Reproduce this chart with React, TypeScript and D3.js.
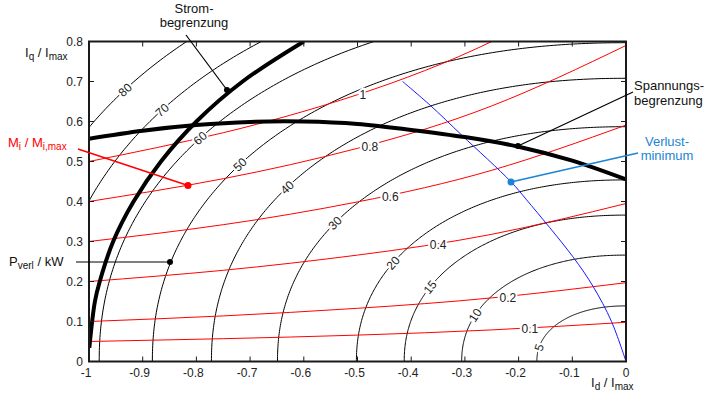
import * as d3 from "d3";

// loss contours P_verl in kW (quarter superellipses, read intercepts)
const lossLevels = [5, 10, 15, 20, 30, 40, 50, 60, 70, 80];
const lossIdIntercept = [-0.166, -0.306, -0.413, -0.502, -0.649, -0.772, -0.882, -0.981, -1.074, -1.156];
const lossIqIntercept = [0.139, 0.266, 0.366, 0.454, 0.587, 0.708, 0.797, 0.89, 0.994, 1.08];
const lossLabelId = [-0.162, -0.281, -0.365, -0.434, -0.542, -0.631, -0.719, -0.793, -0.864, -0.933];
const contourShape = 2.15;

// torque lines Mi / Mi,max
const torqueLevels = ["0.1", "0.2", "0.4", "0.6", "0.8", "1"];
const torqueIdGrid = [-1, -0.75, -0.5, -0.25, 0];
const torqueIq = [
  [0.05, 0.057, 0.066, 0.079, 0.098],
  [0.1, 0.114, 0.133, 0.159, 0.197],
  [0.2, 0.228, 0.266, 0.318, 0.395],
  [0.3, 0.342, 0.399, 0.478, 0.591],
  [0.4, 0.457, 0.533, 0.639, 0.79],
  [0.5, 0.572, 0.667, 0.8, 0.985],
];
const torqueLabelId = [-0.179, -0.22, -0.35, -0.439, -0.477, -0.49];
const torqueLabelIq = [0.081, 0.159, 0.291, 0.411, 0.536, 0.666];

// loss minimum trajectory
const lossMinimum: [number, number][] = [
  [-0.416, 0.7], [-0.365, 0.641], [-0.306, 0.566], [-0.214, 0.449], [-0.185, 0.404],
  [-0.099, 0.262], [-0.061, 0.187], [-0.027, 0.1], [0, 0],
];

// current limit (Strombegrenzung)
const currentLimit: [number, number][] = [
  [-0.9994, 0.034], [-0.989, 0.15], [-0.98, 0.2], [-0.955, 0.3], [-0.917, 0.4],
  [-0.866, 0.5], [-0.8, 0.6], [-0.714, 0.7], [-0.6, 0.8],
];

// voltage limit (Spannungsbegrenzung)
const voltageLimit: [number, number][] = [
  [-1, 0.557], [-0.9, 0.577], [-0.8, 0.591], [-0.7, 0.599], [-0.6, 0.6], [-0.5, 0.594],
  [-0.4, 0.579], [-0.3, 0.561], [-0.2, 0.537], [-0.1, 0.502], [0, 0.455],
];

const xTicks = [-1, -0.9, -0.8, -0.7, -0.6, -0.5, -0.4, -0.3, -0.2, -0.1, 0];
const yTicks = [0, 0.1, 0.2, 0.3, 0.4, 0.5, 0.6, 0.7, 0.8];

const FONT = "'Liberation Sans', Arial, sans-serif";

export default function App() {
  const width = 716;
  const height = 393;
  const x = d3.scaleLinear().domain([-1, 0]).range([89, 626]);
  const y = d3.scaleLinear().domain([0, 0.8]).range([361.5, 41.5]);

  const line = d3.line<[number, number]>().x(d => x(d[0])).y(d => y(d[1]));
  const smooth = d3.line<[number, number]>().x(d => x(d[0])).y(d => y(d[1])).curve(d3.curveCatmullRom);
  const natural = d3.line<[number, number]>().x(d => x(d[0])).y(d => y(d[1])).curve(d3.curveNatural);

  const n = contourShape;
  const superPoint = (a: number, b: number, t: number): [number, number] => [
    a * Math.pow(Math.cos(t), 2 / n),
    b * Math.pow(Math.sin(t), 2 / n),
  ];

  const contours = lossLevels.map((lvl, i) => {
    const a = lossIdIntercept[i];
    const b = lossIqIntercept[i];
    const pts = d3.range(0, 201).map(k => superPoint(a, b, (k / 200) * Math.PI / 2));
    // label sits on the curve, turned along it
    const t = Math.acos(Math.pow(Math.abs(lossLabelId[i] / a), n / 2));
    const p = superPoint(a, b, t);
    const p1 = superPoint(a, b, Math.max(0.0001, t - 0.02));
    const p2 = superPoint(a, b, Math.min(Math.PI / 2, t + 0.02));
    const ang = (Math.atan2(y(p2[1]) - y(p1[1]), x(p2[0]) - x(p1[0])) * 180) / Math.PI;
    return { lvl, d: line(pts) as string, lx: x(p[0]), ly: y(p[1]), ang };
  });

  const torques = torqueLevels.map((lbl, i) => ({
    lbl,
    d: natural(torqueIdGrid.map((id, k) => [id, torqueIq[i][k]] as [number, number])) as string,
    lx: x(torqueLabelId[i]),
    ly: y(torqueLabelIq[i]),
  }));

  const txt = { fontFamily: FONT };

  return (
    <svg width={width} height={height} style={{ position: "absolute", left: 0, top: 0, background: "#fff" }}>
      <defs>
        <clipPath id="plot">
          <rect x={x(-1)} y={y(0.8)} width={x(0) - x(-1)} height={y(0) - y(0.8)} />
        </clipPath>
      </defs>

      <g clipPath="url(#plot)">
        {contours.map(c => (
          <path key={c.lvl} d={c.d} fill="none" stroke="#000" strokeWidth={1} />
        ))}
        {torques.map(t => (
          <path key={t.lbl} d={t.d} fill="none" stroke="#ff0000" strokeWidth={1} />
        ))}
        <path d={smooth(lossMinimum) as string} fill="none" stroke="#1a1aff" strokeWidth={1} />
        <path d={smooth(currentLimit) as string} fill="none" stroke="#000" strokeWidth={4} />
        <path d={smooth(voltageLimit) as string} fill="none" stroke="#000" strokeWidth={4} />

        {contours.map(c => (
          <text
            key={"l" + c.lvl}
            x={c.lx}
            y={c.ly}
            transform={`rotate(${c.ang},${c.lx},${c.ly})`}
            textAnchor="middle"
            dy="0.36em"
            fontSize={12}
            fill="#222"
            stroke="#fff"
            strokeWidth={4}
            paintOrder="stroke"
            style={txt}
          >
            {c.lvl}
          </text>
        ))}
        {torques.map(t => (
          <text
            key={"t" + t.lbl}
            x={t.lx}
            y={t.ly}
            textAnchor="middle"
            dy="0.36em"
            fontSize={12}
            fill="#222"
            stroke="#fff"
            strokeWidth={4}
            paintOrder="stroke"
            style={txt}
          >
            {t.lbl}
          </text>
        ))}
      </g>

      {/* frame and ticks */}
      <rect x={x(-1)} y={y(0.8)} width={x(0) - x(-1)} height={y(0) - y(0.8)} fill="none" stroke="#1a1a1a" strokeWidth={2} />
      {xTicks.map(v => (
        <g key={"xt" + v}>
          <line x1={x(v)} x2={x(v)} y1={y(0)} y2={y(0) - 5} stroke="#1a1a1a" strokeWidth={1} />
          <line x1={x(v)} x2={x(v)} y1={y(0.8)} y2={y(0.8) + 5} stroke="#1a1a1a" strokeWidth={1} />
          <text x={x(v) - (v < 0 ? 3 : 0)} y={377} textAnchor="middle" fontSize={12} fill="#222" style={txt}>
            {String(v)}
          </text>
        </g>
      ))}
      {yTicks.map(v => (
        <g key={"yt" + v}>
          <line x1={x(-1)} x2={x(-1) + 5} y1={y(v)} y2={y(v)} stroke="#1a1a1a" strokeWidth={1} />
          <line x1={x(0)} x2={x(0) - 5} y1={y(v)} y2={y(v)} stroke="#1a1a1a" strokeWidth={1} />
          <text x={83} y={y(v) + 4} textAnchor="end" fontSize={12} fill="#222" style={txt}>
            {v === 0 ? "0" : d3.format(".1f")(v)}
          </text>
        </g>
      ))}

      {/* axis titles */}
      <text x={25} y={57} fontSize={13} fill="#111" style={txt}>
        I<tspan dy={3} fontSize={10}>q</tspan>
        <tspan dy={-3}> / I</tspan>
        <tspan dy={3} fontSize={10}>max</tspan>
      </text>
      <text x={591} y={387} fontSize={13} fill="#111" style={txt}>
        I<tspan dy={3} fontSize={10}>d</tspan>
        <tspan dy={-3}> / I</tspan>
        <tspan dy={3} fontSize={10}>max</tspan>
      </text>

      {/* annotations */}
      <text x={194} y={13} textAnchor="middle" fontSize={13} fill="#111" style={txt}>Strom-</text>
      <text x={194} y={27} textAnchor="middle" fontSize={13} fill="#111" style={txt}>begrenzung</text>
      <line x1={186} y1={35} x2={227} y2={90} stroke="#000" strokeWidth={1.2} />
      <circle cx={227} cy={90} r={3} fill="#000" />

      <text x={634} y={90} fontSize={13} fill="#111" style={txt}>Spannungs-</text>
      <text x={634} y={105} fontSize={13} fill="#111" style={txt}>begrenzung</text>
      <line x1={633} y1={92} x2={518} y2={146} stroke="#000" strokeWidth={1.2} />
      <circle cx={518} cy={146} r={3} fill="#000" />

      <text x={667} y={146} textAnchor="middle" fontSize={13} fill="#1b84d4" style={txt}>Verlust-</text>
      <text x={667} y={160} textAnchor="middle" fontSize={13} fill="#1b84d4" style={txt}>minimum</text>
      <line x1={638} y1={153} x2={511} y2={182} stroke="#1b84d4" strokeWidth={1.5} />
      <circle cx={511} cy={182} r={3.5} fill="#1b84d4" />

      <text x={8} y={147} fontSize={13} fill="#ff0000" style={txt}>
        M<tspan dy={3} fontSize={10}>i</tspan>
        <tspan dy={-3}> / M</tspan>
        <tspan dy={3} fontSize={10}>i,max</tspan>
      </text>
      <line x1={78} y1={149} x2={188} y2={185.5} stroke="#ff0000" strokeWidth={1.5} />
      <circle cx={188} cy={185.5} r={3.5} fill="#ff0000" />

      <text x={9} y={266} fontSize={13} fill="#111" style={txt}>
        P<tspan dy={3} fontSize={10}>verl</tspan>
        <tspan dy={-3}> / kW</tspan>
      </text>
      <line x1={76} y1={262} x2={170} y2={262} stroke="#000" strokeWidth={1.2} />
      <circle cx={170} cy={262} r={3} fill="#000" />
    </svg>
  );
}
